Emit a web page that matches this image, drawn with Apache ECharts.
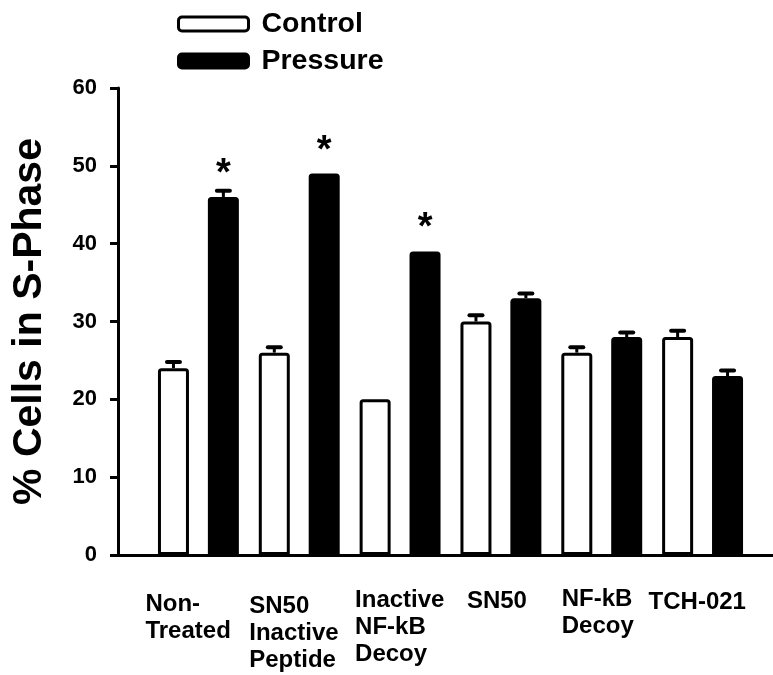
<!DOCTYPE html>
<html><head><meta charset="utf-8">
<script src="https://cdn.jsdelivr.net/npm/echarts@6/dist/echarts.min.js"></script>
<style>html,body{margin:0;padding:0;background:#fff}#c{width:773px;height:675px}</style>
</head><body><div id="c"></div>
<script>
// ---- data ----
const categories = ['Non-\nTreated', 'SN50\nInactive\nPeptide', 'Inactive\nNF-kB\nDecoy', 'SN50', 'NF-kB\nDecoy', 'TCH-021'];
const controlValues = [24, 26, 20, 30, 26, 28];
const pressureValues = [46, 49, 39, 33, 28, 23];
const controlErrors = [0.8, 0.7, 0, 0.8, 0.7, 0.8];
const pressureErrors = [0.8, 0, 0, 0.6, 0.6, 0.7];
const significance = ['*', '*', '*', '', '', ''];
const yTicks = [0, 10, 20, 30, 40, 50, 60];

// ---- style ----
const FONT = '"Liberation Sans", Arial, Helvetica, sans-serif';
const BAR_W = 31, BORDER = 3, GAP = 0.61;
const labelShift = [53, 50, 45, 34, 40, 54];
const labelDrop = [5, 7, 1, 2, 0, 3];

const rich = {};
categories.forEach((c, i) => {
  rich['r' + i] = {width: 2 * labelShift[i], align: 'left', lineHeight: 27, fontSize: 24,
    fontWeight: 'bold', fontFamily: FONT, color: '#000'};
});

function errorSeries(values, errs, side, sig) {
  return {
    type: 'custom', xAxisIndex: 0, yAxisIndex: 0, z: 5, silent: true,
    data: values.map((v, i) => [i, v, errs[i]]),
    renderItem(params, api) {
      const i = api.value(0), v = api.value(1), e = api.value(2);
      const base = api.coord([i, v]);
      const x = base[0] + side * (BAR_W + BAR_W * GAP) / 2;
      const yTop = api.coord([i, v + e])[1];
      const ch = [];
      if (e > 0) {
        ch.push({type: 'line', shape: {x1: x, y1: base[1], x2: x, y2: yTop}, style: {stroke: '#000', lineWidth: 3}});
        ch.push({type: 'line', shape: {x1: x - 6.5, y1: yTop, x2: x + 6.5, y2: yTop}, style: {stroke: '#000', lineWidth: 4, lineCap: 'round'}});
      }
      const s = sig ? sig[params.dataIndex] : '';
      if (s) {
        ch.push({type: 'text', x: x, y: base[1] - 22.5, style: {text: s, fontSize: 38, fontWeight: 'bold', fontFamily: FONT,
          fill: '#000', align: 'center', verticalAlign: 'middle'}});
      }
      return {type: 'group', children: ch};
    }
  };
}

const chart = echarts.init(document.getElementById('c'), null, {renderer: 'canvas'});
chart.setOption({
  animation: false,
  backgroundColor: '#fff',
  textStyle: {fontFamily: FONT},
  legend: {
    orient: 'vertical', left: 172, top: 4, itemWidth: 70, itemHeight: 14, itemGap: 7,
    icon: 'roundRect',
    itemStyle: {borderWidth: 3},
    textStyle: {fontSize: 28.5, fontWeight: 'bold', color: '#000', fontFamily: FONT, padding: [0, 0, 0, 8], lineHeight: 30},
    data: ['Control', 'Pressure']
  },
  grid: [
    {left: 148, right: 20, top: 88, bottom: 120},
    {left: 118, right: 0, top: 88, bottom: 120}
  ],
  xAxis: [
    {type: 'category', gridIndex: 0,
     data: categories.map((c, i) => ({value: c, textStyle: {padding: [labelDrop[i], 0, 0, 0]}})),
     axisLine: {show: false}, axisTick: {show: false}, splitLine: {show: false},
     axisLabel: {margin: 31, interval: 0, align: 'center', verticalAlign: 'top', lineHeight: 27,
       formatter: (val, idx) => val.split('\n').map(l => '{r' + idx + '|' + l + '}').join('\n'),
       rich: rich}},
    {type: 'value', gridIndex: 1, min: 0, max: 1,
     axisLine: {show: true, lineStyle: {color: '#000', width: 3}}, axisTick: {show: false},
     axisLabel: {show: false}, splitLine: {show: false}}
  ],
  yAxis: [
    {type: 'value', gridIndex: 0, min: yTicks[0], max: yTicks[yTicks.length - 1], interval: 10, offset: 30,
     axisLine: {show: true, lineStyle: {color: '#000', width: 3}},
     axisTick: {show: true, length: 8, lineStyle: {color: '#000', width: 3}},
     axisLabel: {margin: 21, fontSize: 22, fontWeight: 'bold', color: '#000', fontFamily: FONT},
     splitLine: {show: false},
     name: '% Cells in S-Phase', nameLocation: 'middle', nameRotate: 90, nameGap: 68,
     nameTextStyle: {fontSize: 41, fontWeight: 'bold', color: '#000', fontFamily: FONT}},
    {type: 'value', gridIndex: 1, show: false, min: 0, max: 1}
  ],
  series: [
    {name: 'Control', type: 'bar', data: controlValues, barWidth: BAR_W, barGap: (GAP * 100) + '%',
     itemStyle: {color: '#fff', borderColor: '#000', borderWidth: BORDER, borderRadius: [2, 2, 0, 0]}},
    {name: 'Pressure', type: 'bar', data: pressureValues, barWidth: BAR_W, barGap: (GAP * 100) + '%',
     itemStyle: {color: '#000', borderColor: '#000', borderWidth: BORDER, borderRadius: [2, 2, 0, 0]}},
    errorSeries(controlValues, controlErrors, -1, null),
    errorSeries(pressureValues, pressureErrors, 1, significance)
  ]
});
</script>
</body></html>
